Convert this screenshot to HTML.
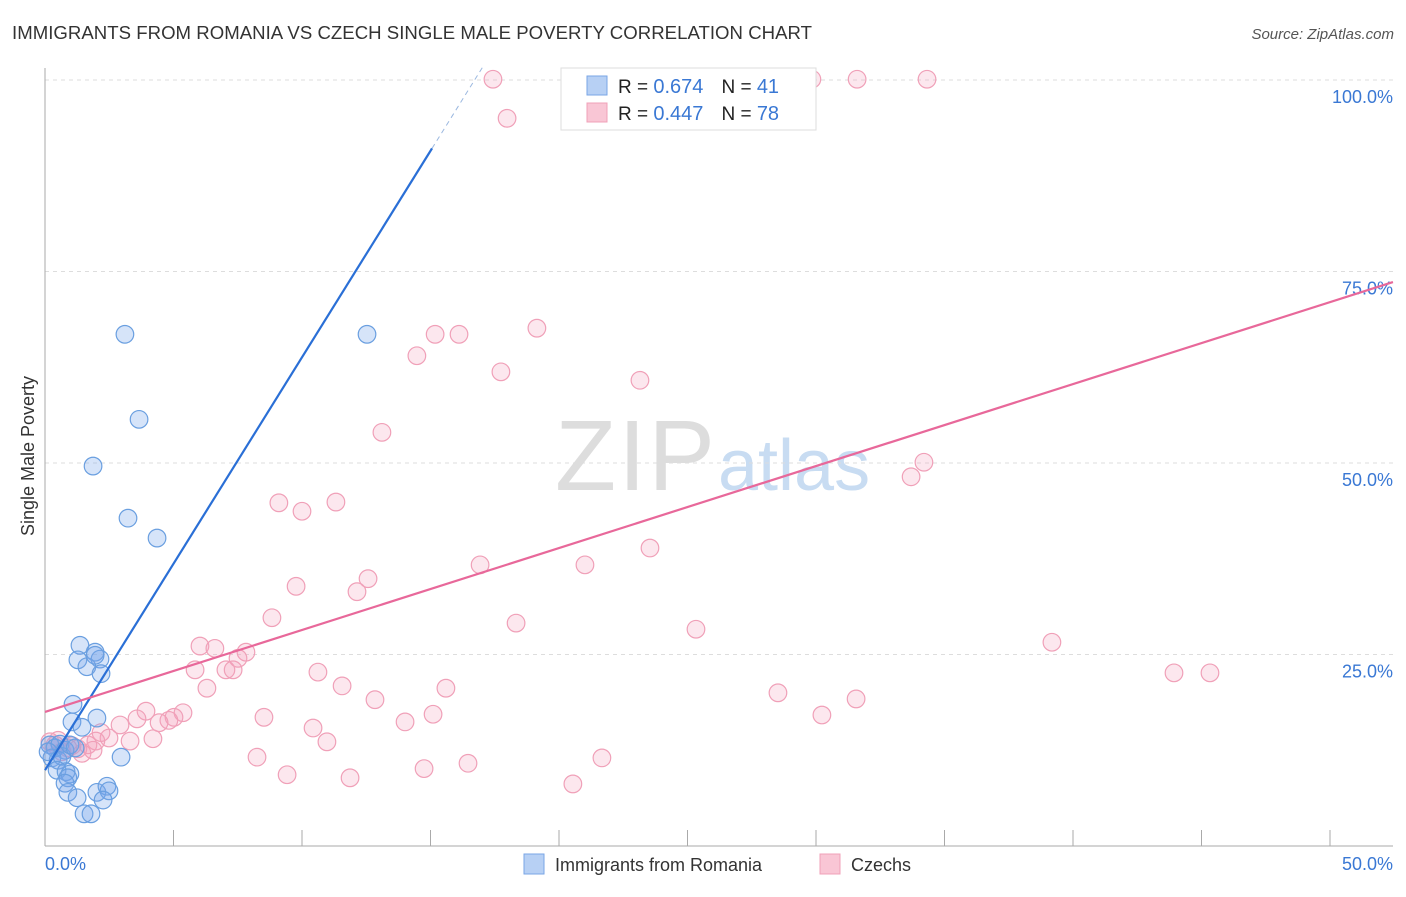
<!DOCTYPE html>
<html><head><meta charset="utf-8"><style>
body{margin:0;background:#fff;font-family:"Liberation Sans",sans-serif;}
svg text{font-family:"Liberation Sans",sans-serif;}
</style></head><body>
<svg id="c" width="1406" height="892">
<text x="12" y="39" font-size="18.6" fill="#333" textLength="800">IMMIGRANTS FROM ROMANIA VS CZECH SINGLE MALE POVERTY CORRELATION CHART</text>
<text x="1394" y="39" font-size="15" fill="#555" font-style="italic" text-anchor="end">Source: ZipAtlas.com</text>
<text x="555" y="490" font-size="100" fill="#ddd" textLength="160" font-family="Liberation Serif">ZIP</text>
<text x="718" y="490" font-size="72" fill="#c8dcf2">atlas</text>
<text transform="translate(34,456) rotate(-90)" font-size="18" fill="#333" text-anchor="middle">Single Male Poverty</text>
<g id="grid"></g><g id="axes"></g><g id="pts"></g><g id="lines"></g>
<g>
<rect x="561" y="68" width="255" height="62" fill="#fff" stroke="#ddd"/>
<rect x="587" y="76" width="20" height="19" fill="#b7d0f4" stroke="#7aa6e6"/>
<rect x="587" y="103" width="20" height="19" fill="#f9c6d5" stroke="#f0a0b8"/>
<text x="618" y="93" font-size="19" fill="#222">R = <tspan fill="#3a78d4" font-size="20">0.674</tspan><tspan dx="18">N = </tspan><tspan fill="#3a78d4" font-size="20">41</tspan></text>
<text x="618" y="120" font-size="19" fill="#222">R = <tspan fill="#3a78d4" font-size="20">0.447</tspan><tspan dx="18">N = </tspan><tspan fill="#3a78d4" font-size="20">78</tspan></text>
</g>
<g>
<rect x="524" y="854" width="20" height="20" fill="#b7d0f4" stroke="#7aa6e6"/>
<text x="555" y="871" font-size="18" fill="#333">Immigrants from Romania</text>
<rect x="820" y="854" width="20" height="20" fill="#f9c6d5" stroke="#f0a0b8"/>
<text x="851" y="871" font-size="18" fill="#333">Czechs</text>
</g>
</svg>
<script>
const blueX=[3.11,3.66,1.87,3.23,4.36,1.36,1.28,1.95,2.14,1.63,2.18,1.09,2.02,1.05,1.44,2.96,0.19,0.39,0.58,0.78,0.27,0.51,0.12,0.66,0.97,1.17,0.47,0.82,0.97,0.89,0.78,0.89,1.25,2.02,2.41,2.49,2.26,1.52,1.79,12.53,1.95];
const blueY=[66.8,55.7,49.6,42.8,40.2,26.2,24.3,25.3,24.4,23.4,22.5,18.5,16.7,16.2,15.5,11.6,13.2,12.8,13.3,12.5,11.5,11.2,12.3,11.7,13.2,12.8,9.9,9.7,9.4,8.9,8.2,7.0,6.3,7.0,7.8,7.2,6.0,4.2,4.2,66.8,24.9];
const pinkX=[17.43,29.84,31.6,34.32,17.98,15.18,16.11,19.14,14.47,17.74,23.15,13.11,34.2,33.7,9.1,11.32,10.0,23.54,16.93,21.01,12.57,12.14,9.77,8.83,18.33,25.33,39.18,6.03,6.61,7.82,7.51,43.93,45.33,5.84,7.04,7.32,10.62,6.3,11.56,15.6,12.84,28.52,31.56,3.93,5.37,5.02,4.82,4.44,3.58,8.52,15.1,14.01,30.23,10.43,2.92,2.18,2.49,3.31,4.2,1.98,10.97,1.05,1.28,1.44,0.51,0.66,0.19,8.25,21.67,16.46,14.75,9.42,11.87,20.54,1.67,1.87,0.89,0.39];
const pinkY=[100.1,100.1,100.1,100.1,95.0,66.8,66.8,67.6,64.0,61.9,60.8,54.0,50.1,48.2,44.8,44.9,43.7,38.9,36.7,36.7,34.9,33.2,33.9,29.8,29.1,28.3,26.6,26.1,25.8,25.3,24.5,22.6,22.6,23.0,23.0,23.0,22.7,20.6,20.9,20.6,19.1,20.0,19.2,17.6,17.4,16.8,16.4,16.1,16.6,16.8,17.2,16.2,17.1,15.4,15.8,14.8,14.1,13.7,14.0,13.7,13.6,13.1,12.7,12.1,13.8,12.3,13.6,11.6,11.5,10.8,10.1,9.3,8.9,8.1,13.2,12.5,12.8,13.2];
const blueFit=[9.9,5.39];
const pinkFit=[17.5,1.07];
const yTicks=[25,50,75,100];
const xTicks=[5,10,15,20,25,30,35,40,45,50];
const NS='http://www.w3.org/2000/svg';
const X=v=>45+v*25.7, Y=v=>846-v*7.66;
function mk(t,a,p){const e=document.createElementNS(NS,t);for(const k in a)e.setAttribute(k,a[k]);document.getElementById(p).appendChild(e);return e;}
for(const t of yTicks){
 const g=mk('line',{x1:45,x2:1393,y1:Y(t),y2:Y(t),stroke:'#ddd','stroke-dasharray':'4,4'},'grid');
 
 
 const l=mk('text',{x:1393,y:Y(t)+23,'font-size':18,fill:'#3a78d4','text-anchor':'end'},'axes');
 l.textContent=t.toFixed(1)+'%';
 
 
}
let a=mk('line',{x1:45,x2:45,y1:68,y2:846,stroke:'#aaa'},'axes');


a=mk('line',{x1:45,x2:1393,y1:846,y2:846,stroke:'#aaa'},'axes');


for(const t of xTicks){
 const k=mk('line',{x1:X(t),x2:X(t),y1:830,y2:846,stroke:'#aaa'},'axes');
 
 
}
let tl=mk('text',{x:45,y:870,'font-size':18,fill:'#3a78d4'},'axes');tl.textContent='0.0%';


tl=mk('text',{x:1393,y:870,'font-size':18,fill:'#3a78d4','text-anchor':'end'},'axes');tl.textContent='50.0%';


pinkX.forEach((v,i)=>{const c=mk('circle',{cx:X(v),cy:Y(pinkY[i]),r:8.8,fill:'rgba(244,160,188,0.25)',stroke:'#f0a0b8','stroke-width':1.2},'pts');
 
 });
blueX.forEach((v,i)=>{const c=mk('circle',{cx:X(v),cy:Y(blueY[i]),r:8.8,fill:'rgba(120,165,235,0.3)',stroke:'#6a9fe0','stroke-width':1.2},'pts');
 
 });
let r=mk('line',{x1:X(0),y1:Y(blueFit[0]),x2:X(15.06),y2:Y(blueFit[0]+blueFit[1]*15.06),stroke:'#2a6fd6','stroke-width':2.2},'lines');


const xe=(100-blueFit[0])/blueFit[1]+0.3;
r=mk('line',{x1:X(15.06),y1:Y(blueFit[0]+blueFit[1]*15.06),x2:X(xe),y2:Y(blueFit[0]+blueFit[1]*xe),stroke:'#9bb8e0','stroke-width':1,'stroke-dasharray':'5,4'},'lines');


r=mk('line',{x1:X(0),y1:Y(pinkFit[0]),x2:X(52.45),y2:Y(pinkFit[0]+pinkFit[1]*52.45),stroke:'#e8689a','stroke-width':2.2},'lines');


</script>
</body></html>
